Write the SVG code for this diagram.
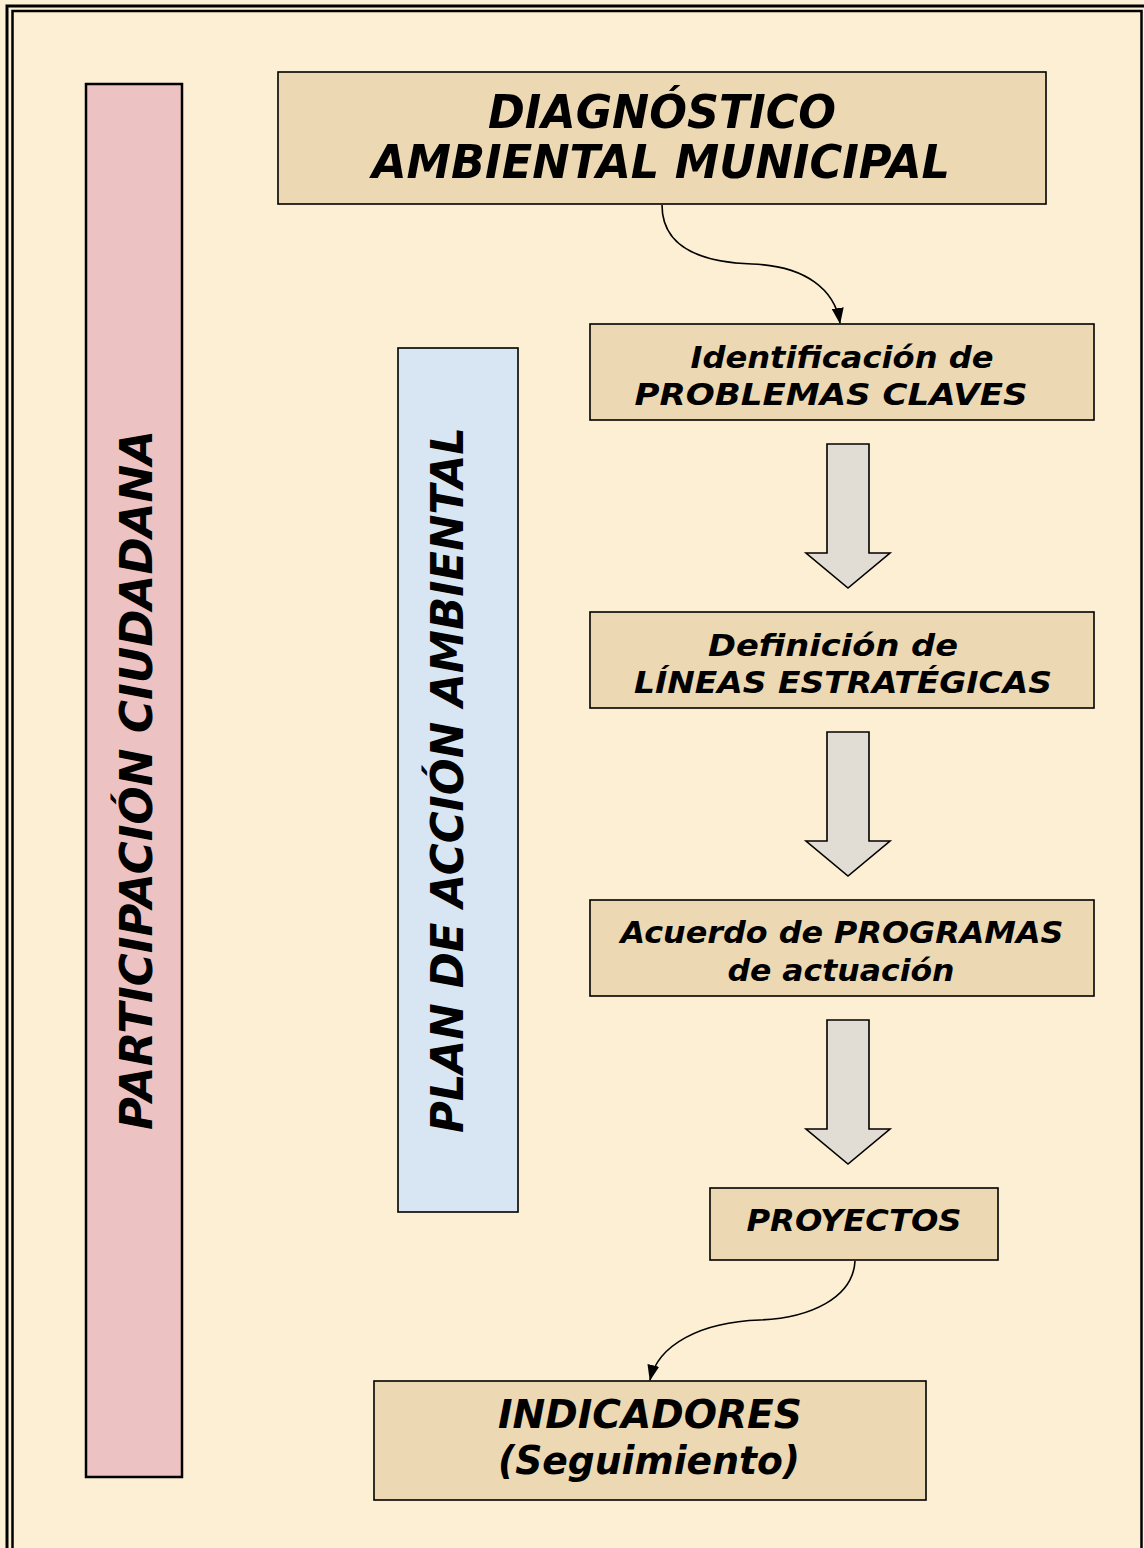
<svg xmlns="http://www.w3.org/2000/svg" width="1144" height="1548" viewBox="0 0 1144 1548">
<style>
.box{fill:#ecd9b3;stroke:#000;stroke-width:1.6}
.t{font-family:"DejaVu Sans","Verdana",sans-serif;font-weight:bold;font-style:italic;fill:#000;text-anchor:middle}
.tc{font-family:"DejaVu Sans","Verdana",sans-serif;font-stretch:condensed;font-weight:bold;font-style:italic;fill:#000;text-anchor:middle}
.blk{fill:#e2ddd4;stroke:#000;stroke-width:1.6}
.con{fill:none;stroke:#000;stroke-width:1.6}
</style>
<defs>
<marker id="ah" viewBox="0 0 16 12" refX="15" refY="6" markerWidth="16" markerHeight="12" markerUnits="userSpaceOnUse" orient="auto">
<path d="M0,0 L16,6 L0,12 Z" fill="#000"/>
</marker>
</defs>
<rect x="0" y="0" width="1144" height="1548" fill="#fdf1d5"/>
<rect x="7" y="6" width="1160" height="1570" fill="none" stroke="#000" stroke-width="3"/>
<rect x="12.5" y="11" width="1129" height="1570" fill="#fcefd3" stroke="#000" stroke-width="2.5"/>
<g id="participacion">
<rect x="86" y="84" width="96" height="1393" fill="#ecc2c3" stroke="#000" stroke-width="2.5"/>
<text class="t" transform="translate(152,780) rotate(-90)" font-size="45" textLength="700" lengthAdjust="spacingAndGlyphs">PARTICIPACIÓN CIUDADANA</text>
</g>
<g id="plan">
<rect x="398" y="348" width="120" height="864" fill="#d8e6f3" stroke="#000" stroke-width="1.6"/>
<text class="t" transform="translate(463,780) rotate(-90)" font-size="45" textLength="706" lengthAdjust="spacingAndGlyphs">PLAN DE ACCIÓN AMBIENTAL</text>
</g>
<g id="diagnostico">
<rect class="box" x="278" y="72" width="768" height="132"/>
<text class="tc" x="662" y="128" font-size="47" textLength="348" lengthAdjust="spacingAndGlyphs">DIAGNÓSTICO</text>
<text class="tc" x="661" y="178" font-size="47" textLength="578" lengthAdjust="spacingAndGlyphs">AMBIENTAL MUNICIPAL</text>
</g>
<g id="identificacion">
<rect class="box" x="590" y="324" width="504" height="96"/>
<text class="t" x="842" y="368" font-size="30" textLength="303" lengthAdjust="spacingAndGlyphs">Identificación de</text>
<text class="t" x="831" y="405" font-size="30" textLength="393" lengthAdjust="spacingAndGlyphs">PROBLEMAS CLAVES</text>
</g>
<g id="definicion">
<rect class="box" x="590" y="612" width="504" height="96"/>
<text class="t" x="833" y="656" font-size="30" textLength="250" lengthAdjust="spacingAndGlyphs">Definición de</text>
<text class="t" x="843" y="693" font-size="30" textLength="418" lengthAdjust="spacingAndGlyphs">LÍNEAS ESTRATÉGICAS</text>
</g>
<g id="acuerdo">
<rect class="box" x="590" y="900" width="504" height="96"/>
<text class="t" x="842" y="943" font-size="30" textLength="443" lengthAdjust="spacingAndGlyphs">Acuerdo de PROGRAMAS</text>
<text class="t" x="841" y="981" font-size="30" textLength="227" lengthAdjust="spacingAndGlyphs">de actuación</text>
</g>
<g id="proyectos">
<rect class="box" x="710" y="1188" width="288" height="72"/>
<text class="t" x="854" y="1231" font-size="30" textLength="215" lengthAdjust="spacingAndGlyphs">PROYECTOS</text>
</g>
<g id="indicadores">
<rect class="box" x="374" y="1381" width="552" height="119"/>
<text class="t" x="650" y="1428" font-size="39" textLength="304" lengthAdjust="spacingAndGlyphs">INDICADORES</text>
<text class="t" x="649" y="1474" font-size="39" textLength="302" lengthAdjust="spacingAndGlyphs">(Seguimiento)</text>
</g>
<g id="connectors">
<path class="con" d="M662,205 C662,242 692,262 752,264 C806,266 835,290 840,323" marker-end="url(#ah)"/>
<path class="con" d="M855,1261 C853,1298 810,1318 760,1320 C700,1322 658,1345 650,1380" marker-end="url(#ah)"/>
<polygon class="blk" points="827,444 869,444 869,553 890,553 848,588 806,553 827,553"/>
<polygon class="blk" points="827,732 869,732 869,841 890,841 848,876 806,841 827,841"/>
<polygon class="blk" points="827,1020 869,1020 869,1129 890,1129 848,1164 806,1129 827,1129"/>
</g>
</svg>
